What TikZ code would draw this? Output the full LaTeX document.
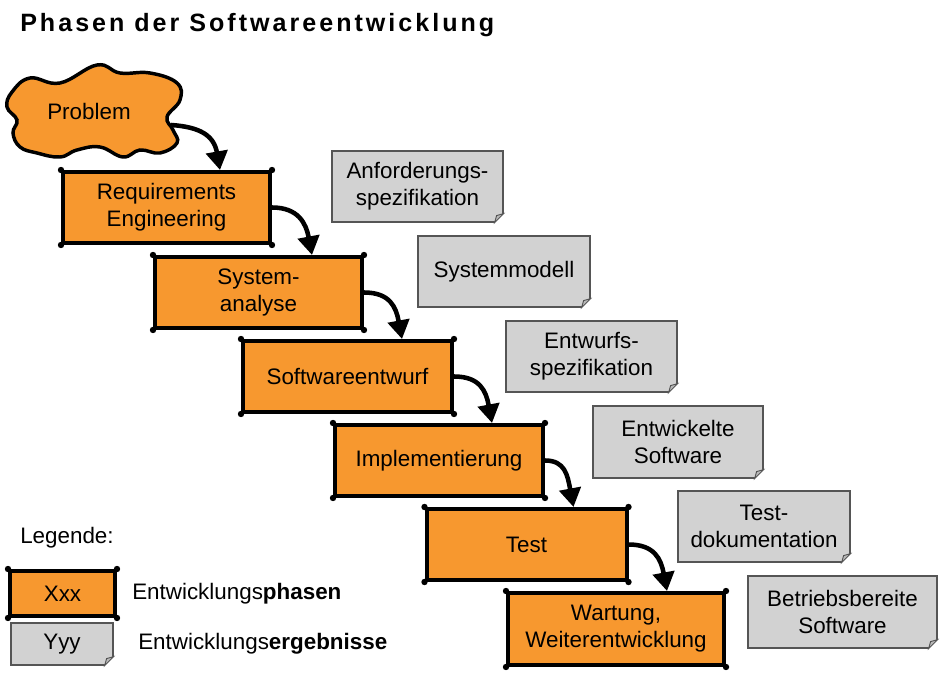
\documentclass[tikz,border=0pt]{standalone}
\usepackage{fontspec}
\setmainfont{Liberation Sans}
\usetikzlibrary{arrows.meta,calc}
\definecolor{phaseor}{HTML}{F7982F}
\definecolor{resgray}{HTML}{D2D2D2}
\definecolor{resline}{HTML}{555555}
\begin{document}
\begin{tikzpicture}[x=0.75pt,y=-0.75pt,
  txt/.style={font=\fontsize{16.8}{20.3}\selectfont, align=center},
  phase/.style={txt, draw=black, fill=phaseor, line width=3pt, minimum height=53.25pt, inner sep=0pt},
  result/.style={txt, draw=resline, fill=resgray, line width=0.9pt, minimum height=53.25pt, inner sep=0pt},
  flow/.style={line width=3.4pt, -{Triangle[length=14pt,width=16pt]}},
  fold/.style={draw=resline, line width=0.7pt, fill=gray!55}
]
\useasboundingbox (0,0) rectangle (949,680);

% title
\node[anchor=base west, inner sep=0pt, font={\bfseries\fontsize{18.8}{21}\selectfont\addfontfeatures{LetterSpace=12}}] (title) at (20,32) {Phasen der Softwareentwicklung};

% problem cloud
\filldraw[fill=phaseor, draw=black, line width=2.6pt] plot[smooth cycle, tension=0.7] coordinates {
  (12,92) (30,78) (60,83) (97,65) (120,73) (150,73) (177,83) (180,100) (167,117) (173,130)
  (177,143) (160,153) (140,150) (123,157) (100,147) (77,150) (60,157) (37,153) (20,147)
  (13,133) (17,120) (7,107)};
\node[txt] (problem) at (89,111) {Problem};
\coordinate (pa) at (171,125);

% phases
\node[phase, minimum width=155.25pt] (re) at (166.5,207.5) {Requirements\\Engineering};
\node[phase, minimum width=155.25pt] (sa) at (258.5,292.5) {System-\\analyse};
\node[phase, minimum width=156.75pt] (sw) at (347.5,376.5) {Softwareentwurf};
\node[phase, minimum width=156pt] (im) at (439,460.5) {Implementierung};
\node[phase, minimum width=150pt] (te) at (526.5,544.5) {Test};
\node[phase, minimum width=162pt, minimum height=54pt] (wa) at (616,629) {Wartung,\\Weiterentwicklung};

% results
\node[result, minimum width=128.25pt] (r1) at (417.5,186.5) {Anforderungs-\\spezifikation};
\node[result, minimum width=129pt] (r2) at (504,271.5) {Systemmodell};
\node[result, minimum width=128.25pt] (r3) at (591.5,356.5) {Entwurfs-\\spezifikation};
\node[result, minimum width=127.5pt, minimum height=54pt] (r4) at (678,442) {Entwickelte\\Software};
\node[result, minimum width=129pt] (r5) at (764,526.5) {Test-\\dokumentation};
\node[result, minimum width=141.75pt, minimum height=54pt] (r6) at (842.5,612) {Betriebsbereite\\Software};

% legend
\node[txt, anchor=west, inner sep=0pt] (leg) at (20,538) {Legende:};
\node[phase, minimum width=78.75pt, minimum height=33.75pt] (lp) at (62.5,593.5) {Xxx};
\node[result, minimum width=76.5pt, minimum height=31.5pt] (lr) at (62,644) {Yyy};
\node[txt, anchor=west, inner sep=0pt] (lpt) at (132,594) {Entwicklungs\textbf{phasen}};
\node[txt, anchor=west, inner sep=0pt] (lrt) at (138,644) {Entwicklungs\textbf{ergebnisse}};

% corner dots
\foreach \n in {re,sa,sw,im,te,wa,lp}
  \foreach \a in {north east,north west,south east,south west}
    \fill (\n.\a) circle (2.4pt);

% folded corners
\foreach \n in {r1,r2,r3,r4,r5,r6,lr}{
  \fill[white] ($(\n.south east)+(0.8,0.8)$) -- ($(\n.south east)+(-10,0.8)$) -- ($(\n.south east)+(0.8,-10)$) -- cycle;
  \draw[fold] ($(\n.south east)+(-9,0)$) -- ($(\n.south east)+(-7,-7)$) -- ($(\n.south east)+(0,-9)$) -- cycle;
}

% flow arrows
\draw[flow] (pa) .. controls +(30,2) and +(-6,-34) .. ($(re.north east)+(-52,0)$);
\draw[flow] (re.east) .. controls +(26,0) and +(-6,-32) .. ($(sa.north east)+(-52,0)$);
\draw[flow] (sa.east) .. controls +(26,0) and +(-6,-32) .. ($(sw.north east)+(-52,0)$);
\draw[flow] (sw.east) .. controls +(26,0) and +(-6,-32) .. ($(im.north east)+(-53,0)$);
\draw[flow] (im.east) .. controls +(20,0) and +(-6,-32) .. ($(te.north east)+(-55,0)$);
\draw[flow] (te.east) .. controls +(26,0) and +(-6,-32) .. ($(wa.north east)+(-59,0)$);
\end{tikzpicture}
\end{document}
